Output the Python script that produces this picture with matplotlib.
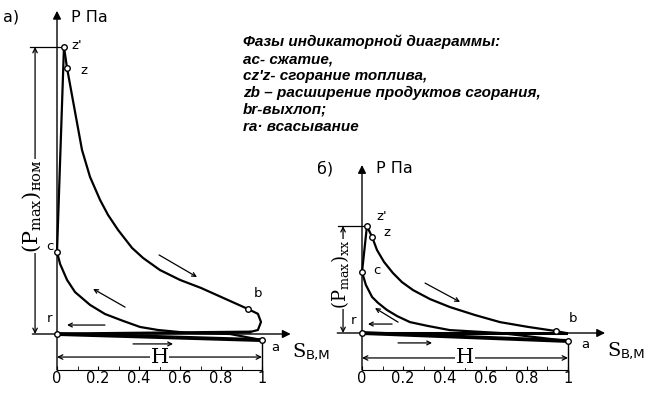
import matplotlib.pyplot as plt
import numpy as np

# ---- data (S in m, P in arbitrary units) ----
point_names = ["z'", "z", "c", "b", "r", "a"]
tick_vals = [0, 0.2, 0.4, 0.6, 0.8, 1]
tick_labels = ["0", "0.2", "0.4", "0.6", "0.8", "1"]

# a) nominal load
a_exp_s = [0.034, 0.049, 0.088, 0.122, 0.161, 0.21, 0.249, 0.298, 0.366, 0.42, 0.502, 0.60,
           0.702, 0.824, 0.932, 0.98, 0.995, 0.98, 0.94]
a_exp_p = [8.97, 8.31, 6.94, 5.75, 4.91, 4.19, 3.72, 3.25, 2.69, 2.375, 2.0, 1.69,
           1.44, 1.09, 0.78, 0.63, 0.375, 0.125, 0.06]
a_cmp_s = [1.0, 0.844, 0.649, 0.493, 0.405, 0.322, 0.234, 0.161, 0.088, 0.049, 0.015, 0.0]
a_cmp_p = [-0.19, 0.0, 0.03, 0.125, 0.22, 0.41, 0.625, 0.91, 1.31, 1.69, 2.19, 2.56]
a_pts_s = [0.034, 0.049, 0.0, 0.932, 0.0, 1.0]
a_pts_p = [8.97, 8.31, 2.56, 0.78, 0.0, -0.19]

# б) idle
b_exp_s = [0.024, 0.049, 0.073, 0.107, 0.15, 0.194, 0.248, 0.33, 0.427, 0.549, 0.67, 0.806, 0.942, 0.99]
b_exp_p = [3.34, 3.0, 2.59, 2.22, 1.875, 1.59, 1.34, 1.06, 0.81, 0.56, 0.34, 0.19, 0.06, 0.0]
b_cmp_s = [1.0, 0.67, 0.427, 0.32, 0.233, 0.17, 0.121, 0.078, 0.049, 0.019, 0.01, 0.0]
b_cmp_p = [-0.25, 0.0, 0.09, 0.22, 0.34, 0.53, 0.72, 0.94, 1.125, 1.5, 1.69, 1.9]
b_pts_s = [0.024, 0.049, 0.0, 0.942, 0.0, 1.0]
b_pts_p = [3.34, 3.0, 1.9, 0.06, 0.0, -0.25]

legend_lines = ["Фазы индикаторной диаграммы:",
                "ас- сжатие,",
                "cz'z- сгорание топлива,",
                "zb – расширение продуктов сгорания,",
                "br-выхлоп;",
                "ra· всасывание"]


def arrow(ax, x0, y0, x1, y1, style='->', lw=1.0, ms=8):
    ax.annotate('', xy=(x1, y1), xytext=(x0, y0),
                arrowprops=dict(arrowstyle=style, lw=lw, color='k',
                                mutation_scale=ms, shrinkA=0, shrinkB=0))


def draw(ax, exp_s, exp_p, cmp_s, cmp_p, pts_s, pts_p, offs, tick_y, h_y,
         top, dim_x, dim_label, dim_y, dim_fs, letter, letter_txt, xlab_x, y_tip, dir_arrows):
    k = 'k'
    ax.patch.set_visible(False)
    # axes lines
    arrow(ax, -0.12, 0, xlab_x - 0.01, 0, '-|>', 1.0, 12)
    arrow(ax, 0, tick_y, 0, y_tip, '-|>', 1.0, 12)
    ax.plot([1, 1], [pts_p[5], tick_y], color=k, lw=1)
    # cycle
    ax.plot(exp_s, exp_p, color=k, lw=1.6)
    ax.plot(cmp_s, cmp_p, color=k, lw=1.6)
    ax.plot([cmp_s[-1], exp_s[0]], [cmp_p[-1], exp_p[0]], color=k, lw=1.6)
    ax.plot([exp_s[-1], 0], [exp_p[-1], 0], color=k, lw=2.2)
    ax.plot([0, 1], [0, pts_p[5]], color=k, lw=2.8)
    ax.plot(pts_s, pts_p, 'o', ms=4, mfc='white', mec=k, mew=1, zorder=5)
    for name, s, p, o in zip(point_names, pts_s, pts_p, offs):
        ax.annotate(name, (s, p), xytext=o, textcoords='offset pixels',
                    ha='center', va='center', fontsize=9.5)
    # direction arrows
    for x0, y0, x1, y1 in dir_arrows:
        arrow(ax, x0, y0, x1, y1, '->', 0.9, 7)
    # stroke H
    arrow(ax, 0, h_y, 1, h_y, '<->', 0.9, 8)
    ax.text(0.5, h_y, 'H', ha='center', va='center', fontsize=15,
            family='DejaVu Serif', bbox=dict(fc='white', ec='none', pad=0.5))
    # Pmax dimension
    ax.plot([dim_x - 0.025, pts_s[0]], [pts_p[0], pts_p[0]], color=k, lw=0.9)
    arrow(ax, dim_x, pts_p[0], dim_x, 0, '<->', 0.9, 8)
    ax.text(dim_x - 0.015, dim_y, dim_label, rotation=90, ha='center', va='center',
            fontsize=dim_fs, bbox=dict(fc='white', ec='none', pad=0.3))
    # labels
    ax.text(0.07, top, 'P Па', fontsize=11.5, va='center')
    ax.text(letter, top, letter_txt, fontsize=11.5, va='center')
    ax.text(xlab_x, -0.55, 'S', fontsize=14, family='DejaVu Serif', va='center')
    ax.text(xlab_x + 0.065, -0.68, 'В,М', fontsize=9.5, va='center')
    # tick axis
    ax.spines[['left', 'right', 'top']].set_visible(False)
    ax.spines['bottom'].set_position(('data', tick_y))
    ax.spines['bottom'].set_bounds(0, 1)
    ax.set_xticks(tick_vals)
    ax.set_xticklabels(tick_labels, fontsize=10.5)
    ax.set_xticks(np.arange(0.1, 1.0, 0.2), minor=True)
    ax.tick_params(axis='x', which='both', direction='in', length=3, pad=1)
    ax.set_yticks([])


plt.rcParams['mathtext.fontset'] = 'dejavuserif'
fig = plt.figure(figsize=(6.52, 3.97), dpi=100)

ax1 = fig.add_axes([0, 0, 0.5, 1])
ax1.set_xlim(-57 / 205, 269 / 205)
ax1.set_ylim(-63 / 32, 334 / 32)
draw(ax1, a_exp_s, a_exp_p, a_cmp_s, a_cmp_p, a_pts_s, a_pts_p,
     [(13, 1), (17, -2), (-7, 6), (10, 16), (-8, 16), (13, -7)],
     -1.125, -0.72, 9.9, -0.107, r'$(\mathrm{P}_{\mathrm{max}})_{\mathrm{ном}}$', 4.0, 15,
     -0.263, 'а)', 1.15, 10.1,
     [(0.498, 2.47, 0.683, 1.78), (0.332, 0.84, 0.176, 1.41),
      (0.234, 0.28, 0.049, 0.28), (0.371, -0.31, 0.566, -0.31)])

ax2 = fig.add_axes([0.5, 0, 0.5, 1])
ax2.set_xlim(-36 / 206, 290 / 206)
ax2.set_ylim(-64 / 32, 333 / 32)
draw(ax2, b_exp_s, b_exp_p, b_cmp_s, b_cmp_p, b_pts_s, b_pts_p,
     [(15, 10), (15, 4), (15, 2), (17, 13), (-9, 13), (17, -4)],
     -1.156, -0.78, 5.15, -0.092, r'$(\mathrm{P}_{\mathrm{max}})_{\mathrm{xx}}$', 1.85, 13,
     -0.218, 'б)', 1.19, 5.25,
     [(0.306, 1.56, 0.476, 0.97), (0.175, 0.34, 0.063, 0.78),
      (0.146, 0.28, 0.029, 0.28), (0.175, -0.31, 0.34, -0.31)])

for i, line in enumerate(legend_lines):
    fig.text(243 / 652, 1 - (42 + 17 * i) / 397, line, fontsize=11,
             family='Liberation Sans', weight='bold', style='italic', va='center')

fig.savefig('out.png', dpi=100)
